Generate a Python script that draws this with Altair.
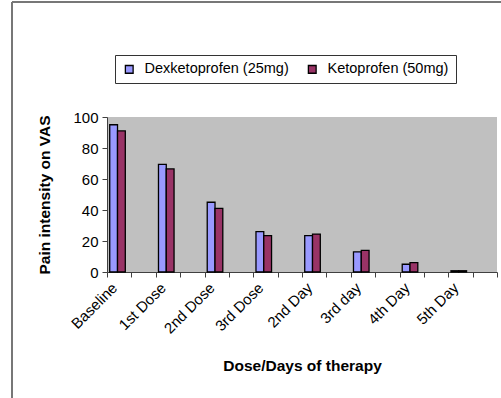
import altair as alt
import pandas as pd

categories = ["Baseline", "1st Dose", "2nd Dose", "3rd Dose", "2nd Day", "3rd day", "4th Day", "5th Day"]
dexketoprofen = [95, 69.5, 45, 26, 23.5, 13, 5, 0.8]
ketoprofen = [91, 66.5, 41, 23.5, 24.5, 14, 6, 0.8]
series = ["Dexketoprofen (25mg)", "Ketoprofen (50mg)"]
colors = ["#9999FF", "#993366"]

# Excel-style category axis: an empty slot after each category
domain = []
for i, c in enumerate(categories):
    domain.append(c)
    domain.append(f"_gap{i}")

rows = []
for c, d, k in zip(categories, dexketoprofen, ketoprofen):
    rows.append({"cat": c, "series": series[0], "value": d})
    rows.append({"cat": c, "series": series[1], "value": k})
df = pd.DataFrame(rows)

FONT = "Liberation Sans"

bars = alt.Chart(df).mark_bar(stroke="black", strokeWidth=1.3).encode(
    x=alt.X("cat:N", sort=domain,
            scale=alt.Scale(domain=domain, paddingInner=0, paddingOuter=0),
            axis=alt.Axis(title="Dose/Days of therapy", labelAngle=-45, labelAlign="right",
                          labelBaseline="middle", labelPadding=8, labelOffset=-5,
                          tickBand="extent",
                          labelExpr="indexof(datum.label, '_gap') == 0 ? '' : datum.label",
                          titleFontSize=15.5, titleFontWeight="bold", titlePadding=22,
                          labelFontSize=15, tickSize=5, labelColor="black", titleColor="black",
                          domainColor="#404040", tickColor="#404040")),
    xOffset=alt.XOffset("series:N", sort=series,
                        scale=alt.Scale(paddingInner=0, paddingOuter=0.565, align=0.31)),
    y=alt.Y("value:Q", scale=alt.Scale(domain=[0, 100]),
            axis=alt.Axis(title="Pain intensity on VAS", values=[0, 20, 40, 60, 80, 100],
                          titleFontSize=15.5, titleFontWeight="bold", titlePadding=20,
                          labelFontSize=15, tickSize=5, labelPadding=4, grid=False,
                          labelColor="black", titleColor="black",
                          domainColor="#404040", tickColor="#404040")),
    color=alt.Color("series:N", sort=series,
                    scale=alt.Scale(domain=series, range=colors),
                    legend=alt.Legend(title=None, orient="none", legendX=8, legendY=-62,
                                      direction="horizontal", symbolType="square",
                                      symbolSize=60, symbolStrokeColor="black",
                                      symbolStrokeWidth=1.3, labelFontSize=14.5,
                                      labelColor="black", labelOffset=8, columnPadding=16,
                                      padding=7, strokeColor="#333333", fillColor="white")),
)

frame_left = alt.Chart(df).mark_rule(color="#777777", strokeWidth=1.5).encode(
    x=alt.value(-95), y=alt.value(-115), y2=alt.value(281))
frame_top = alt.Chart(df).mark_rule(color="#777777", strokeWidth=1.5).encode(
    x=alt.value(-95), x2=alt.value(394), y=alt.value(-115))

chart = alt.layer(bars, frame_left, frame_top).properties(
    width=390, height=155,
    padding={"left": 107, "top": 117, "right": 4, "bottom": 126},
    autosize=alt.AutoSizeParams(type="none"),
).configure(font=FONT, background="white").configure_view(fill="#C0C0C0", stroke=None)

chart.save("out.html", embed_options={"renderer": "svg", "actions": False})
